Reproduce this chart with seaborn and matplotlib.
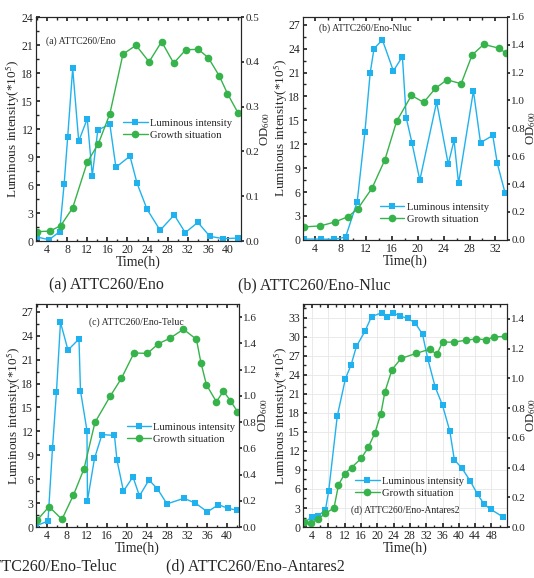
import matplotlib
matplotlib.use("Agg")
import matplotlib.pyplot as plt
import seaborn as sns
from matplotlib.ticker import MultipleLocator

# ---------------------------------------------------------
# Data
# ---------------------------------------------------------
# (a) ATTC260/Eno
a_lum_t = [2.0, 4.4, 6.5, 7.4, 8.1, 9.1, 10.3, 12.0, 13.0, 14.1, 16.5, 17.7,
           20.5, 21.9, 23.9, 26.5, 29.3, 31.5, 34.0, 36.4, 39.1, 42.0]
a_lum = [0.43, 0.14, 1.0, 6.1, 11.1, 18.5, 10.7, 13.1, 7.0, 11.9, 12.5, 7.9,
         9.1, 6.2, 3.4, 1.15, 2.8, 0.9, 2.0, 0.5, 0.25, 0.32]
a_od_t = [2.0, 4.5, 6.7, 9.1, 12.0, 14.2, 16.5, 19.1, 21.7, 24.3, 26.8, 29.2,
          31.6, 34.1, 36.1, 38.3, 39.9, 42.0]
a_od = [0.021, 0.022, 0.034, 0.074, 0.176, 0.217, 0.284, 0.417, 0.437, 0.400,
        0.445, 0.397, 0.427, 0.428, 0.409, 0.368, 0.329, 0.286]

# (b) ATTC260/Eno-Nluc
b_lum_t = [2.3, 5.0, 7.0, 8.8, 10.6, 11.8, 12.6, 13.2, 14.5, 16.2, 17.6, 18.2,
           19.1, 20.3, 22.9, 24.7, 25.6, 26.3, 28.6, 29.7, 31.6, 32.3, 33.5]
b_lum = [0.1, 0.1, 0.05, 0.35, 4.8, 13.6, 20.9, 24.0, 25.1, 21.2, 23.0, 15.3,
         12.1, 7.5, 17.3, 9.5, 12.5, 7.1, 18.7, 12.2, 13.1, 9.6, 5.9]
b_od_t = [2.3, 4.9, 7.2, 9.2, 10.7, 12.9, 14.9, 16.7, 19.0, 20.9, 22.7, 24.5,
          26.7, 28.4, 30.2, 32.6, 33.6]
b_od = [0.093, 0.100, 0.129, 0.167, 0.224, 0.371, 0.576, 0.850, 1.036, 0.986,
        1.086, 1.148, 1.120, 1.326, 1.402, 1.374, 1.340]

# (c) ATTC260/Eno-Teluc
c_lum_t = [1.9, 4.2, 5.1, 5.9, 6.7, 8.2, 10.4, 10.7, 12.0, 12.1, 13.5, 15.0,
           17.5, 18.0, 19.3, 21.2, 22.5, 24.4, 26.1, 28.0, 31.4, 33.7, 36.1,
           38.3, 40.2, 42.1]
c_lum = [0.17, 0.75, 9.9, 17.0, 25.7, 22.2, 23.6, 17.1, 12.1, 3.3, 8.6, 11.6,
         11.5, 8.4, 4.5, 6.3, 3.9, 5.9, 4.8, 2.9, 3.6, 3.0, 1.9, 2.8, 2.35, 2.1]
c_od_t = [2.0, 4.4, 7.0, 9.3, 11.4, 13.6, 16.7, 18.9, 21.4, 24.1, 26.3, 28.6,
          31.3, 33.9, 34.8, 35.9, 37.9, 39.3, 40.7, 42.1]
c_od = [0.051, 0.155, 0.059, 0.244, 0.443, 0.797, 1.000, 1.133, 1.326, 1.323,
        1.397, 1.438, 1.507, 1.430, 1.252, 1.084, 0.954, 1.036, 0.962, 0.880]

# (d) ATTC260/Eno-Antares2
d_lum_t = [2.0, 4.0, 5.6, 7.3, 8.1, 10.2, 12.2, 13.6, 14.9, 17.0, 18.6, 21.1,
           22.3, 23.8, 25.6, 27.5, 29.3, 31.1, 32.4, 34.2, 36.0, 37.8, 38.9,
           40.8, 42.8, 44.6, 46.2, 47.8, 50.8]
d_lum = [0.63, 1.6, 1.8, 2.7, 5.7, 17.5, 23.4, 25.6, 28.5, 30.9, 33.2, 33.8,
         33.2, 33.8, 33.3, 32.9, 32.2, 30.4, 26.5, 22.1, 19.2, 15.1, 10.6, 9.25,
         7.25, 5.15, 3.6, 2.8, 1.6]
d_od_t = [2.0, 3.8, 5.6, 7.3, 9.4, 10.5, 12.0, 13.7, 16.1, 17.8, 19.4, 20.9,
          21.9, 23.6, 25.8, 29.5, 32.9, 34.6, 36.0, 38.7, 41.8, 44.3, 46.7,
          48.7, 51.2]
d_od = [0.031, 0.027, 0.056, 0.092, 0.128, 0.283, 0.357, 0.400, 0.462, 0.536,
        0.630, 0.763, 0.911, 1.057, 1.133, 1.167, 1.196, 1.160, 1.243, 1.243,
        1.256, 1.265, 1.259, 1.279, 1.281]

BLUE = "#1fb2ee"
GREEN = "#36b34a"

sns.set_theme(style="ticks")
plt.rcParams["font.family"] = ["Liberation Serif", "DejaVu Serif"]
plt.rcParams["mathtext.fontset"] = "stix"
plt.rcParams["axes.linewidth"] = 0.8

fig = plt.figure(figsize=(5.34, 5.78), dpi=100)

panels = [
    dict(rect=[0.0674, 0.583, 0.384, 0.3875], lum_t=a_lum_t, lum=a_lum, od_t=a_od_t, od=a_od,
         xlim=(1.8, 42.6), ylim=(0, 24), y2lim=(0, 0.5), y2step=0.1,
         title="(a) ATTC260/Eno", tpos=(0.05, 0.89), tha="left",
         leg=(0.39, 0.50), grid=False, ylab_x=-0.066, y2lab_x=1.083),
    dict(rect=[0.5674, 0.585, 0.382, 0.386], lum_t=b_lum_t, lum=b_lum, od_t=b_od_t, od=b_od,
         xlim=(2.2, 33.8), ylim=(0, 28), y2lim=(0, 1.6), y2step=0.2,
         title="(b) ATTC260/Eno-Nluc", tpos=(0.08, 0.95), tha="left",
         leg=(0.34, 0.12), grid=False, ylab_x=-0.066, y2lab_x=1.085),
    dict(rect=[0.0674, 0.0882, 0.380, 0.386], lum_t=c_lum_t, lum=c_lum, od_t=c_od_t, od=c_od,
         xlim=(1.8, 42.4), ylim=(0, 28), y2lim=(0, 1.7), y2step=0.2,
         title="(c) ATTC260/Eno-Teluc", tpos=(0.26, 0.92), tha="left",
         leg=(0.41, 0.42), grid=False, ylab_x=-0.066, y2lab_x=1.085),
    dict(rect=[0.5674, 0.0882, 0.382, 0.386], lum_t=d_lum_t, lum=d_lum, od_t=d_od_t, od=d_od,
         xlim=(1.8, 51.8), ylim=(0, 35.2), y2lim=(0, 1.5), y2step=0.2,
         title="(d) ATTC260/Eno-Antares2", tpos=(0.50, 0.076), tha="center",
         leg=(0.22, 0.18), grid=True, ylab_x=-0.066, y2lab_x=1.085),
]

for p in panels:
    ax = fig.add_axes(p["rect"])
    ax2 = ax.twinx()

    sns.lineplot(x=p["lum_t"], y=p["lum"], ax=ax, color=BLUE, marker="s",
                 markersize=5, markeredgewidth=0, linewidth=1.0,
                 label="Luminous intensity", legend=False)
    sns.lineplot(x=p["od_t"], y=p["od"], ax=ax2, color=GREEN, marker="o",
                 markersize=5.5, markeredgewidth=0, linewidth=1.0,
                 label="Growth situation", legend=False)

    ax.set_xlim(*p["xlim"])
    ax.set_ylim(*p["ylim"])
    ax2.set_ylim(*p["y2lim"])
    ax.xaxis.set_major_locator(MultipleLocator(4))
    ax.xaxis.set_minor_locator(MultipleLocator(2))
    ax.yaxis.set_major_locator(MultipleLocator(3))
    ax.yaxis.set_minor_locator(MultipleLocator(1.5))
    ax2.yaxis.set_major_locator(MultipleLocator(p["y2step"]))
    ax2.yaxis.set_major_formatter(plt.FormatStrFormatter("%.1f"))

    ax.tick_params(which="both", direction="in", top=True, labelsize=8.5, pad=2)
    ax.tick_params(which="major", length=3)
    ax.tick_params(which="minor", length=1.8)
    ax2.tick_params(which="major", direction="out", length=2.5, labelsize=8, pad=0.5)

    if p["grid"]:
        ax.grid(True, color="#e6e6e6", linewidth=0.6)
        ax.set_axisbelow(True)

    ax.set_xlabel("Time(h)", fontsize=10, labelpad=0)
    ax.set_ylabel("Luminous intensity(*10$^5$)", fontsize=9.5)
    ax.yaxis.set_label_coords(p["ylab_x"], 0.5)
    ax2.set_ylabel("OD$_{600}$", fontsize=9.2)
    ax2.yaxis.set_label_coords(p["y2lab_x"], 0.5)

    ax.text(p["tpos"][0], p["tpos"][1], p["title"], transform=ax.transAxes,
            fontsize=7, ha=p["tha"], va="center")

    h1, l1 = ax.get_legend_handles_labels()
    h2, l2 = ax2.get_legend_handles_labels()
    ax2.legend(h1 + h2, l1 + l2, loc="center left", bbox_to_anchor=p["leg"],
               frameon=False, fontsize=7.6, handlelength=2.3, handletextpad=0.25,
               borderpad=0.2, labelspacing=0.25)

# sub-figure captions
fig.text(49 / 534, 1 - 285 / 578, "(a) ATTC260/Eno", fontsize=11.5, va="center")
fig.text(238 / 534, 1 - 285 / 578, "(b) ATTC260/Eno-Nluc", fontsize=11.5, va="center")
fig.text(117 / 534, 1 - 566 / 578, "(c) ATTC260/Eno-Teluc", fontsize=11.5, va="center", ha="right")
fig.text(166 / 534, 1 - 566 / 578, "(d) ATTC260/Eno-Antares2", fontsize=11.5, va="center")

fig.savefig("out.png", dpi=100)
